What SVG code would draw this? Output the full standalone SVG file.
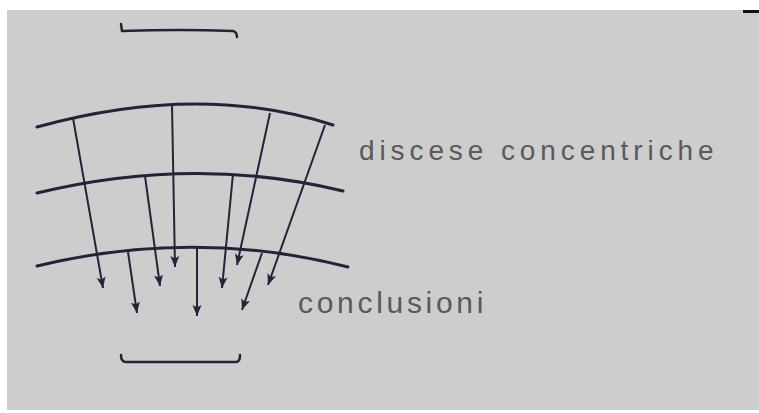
<svg xmlns="http://www.w3.org/2000/svg" width="759" height="413" viewBox="0 0 759 413">
<style>
.arc{fill:none;stroke:#23233a;stroke-width:3;stroke-linecap:round}
.ln{fill:none;stroke:#23233a;stroke-width:2;marker-end:url(#ah)}
.br{fill:none;stroke:#23233a;stroke-width:2.5;stroke-linecap:round;stroke-linejoin:round}
.lbl{font-family:"Liberation Sans",Arial,sans-serif;fill:#5a5a5a}
</style>
<defs>
<marker id="ah" markerUnits="userSpaceOnUse" markerWidth="12" markerHeight="12" viewBox="0 0 12 12" refX="11" refY="6" orient="auto">
<path d="M0,1.5 L11,6 L0,10.5 L2.5,6 Z" fill="#23233a"/>
</marker>
</defs>
<rect x="0" y="0" width="759" height="413" fill="#ffffff"/>
<rect x="7" y="10" width="752" height="400" fill="#cdcdcd"/>
<rect x="743" y="10" width="16" height="3" fill="#111111"/>
<g id="top-bracket"><path class="br" d="M121,24 L122,31 Q180,29 233,31 Q237,32 237,37"/></g>
<g id="bottom-bracket"><path class="br" d="M121,355 Q121,362 126,362 L236,362 Q240,362 240,355"/></g>
<g id="arcs">
<path id="arc1" class="arc" d="M37,127 Q200,82 333,125"/>
<path id="arc2" class="arc" d="M37,193 Q195,155 343,191"/>
<path id="arc3" class="arc" d="M37,266 Q195,228 348,267"/>
</g>
<g id="connectors">
<line class="ln" x1="73" y1="118" x2="103" y2="288"/>
<line class="ln" x1="128" y1="252" x2="137" y2="313"/>
<line class="ln" x1="145" y1="176" x2="160" y2="286"/>
<line class="ln" x1="172" y1="105" x2="175" y2="267"/>
<line class="ln" x1="197" y1="247" x2="197" y2="316"/>
<line class="ln" x1="233" y1="174" x2="222" y2="288"/>
<line class="ln" x1="270" y1="113" x2="237" y2="265"/>
<line class="ln" x1="262" y1="253" x2="242" y2="310"/>
<line class="ln" x1="325" y1="125" x2="268" y2="285"/>
</g>
<g id="labels">
<text class="lbl" x="359" y="160" font-size="28" letter-spacing="4.9">discese concentriche</text>
<text class="lbl" x="298" y="313" font-size="30" letter-spacing="3.7">conclusioni</text>
</g>
</svg>
